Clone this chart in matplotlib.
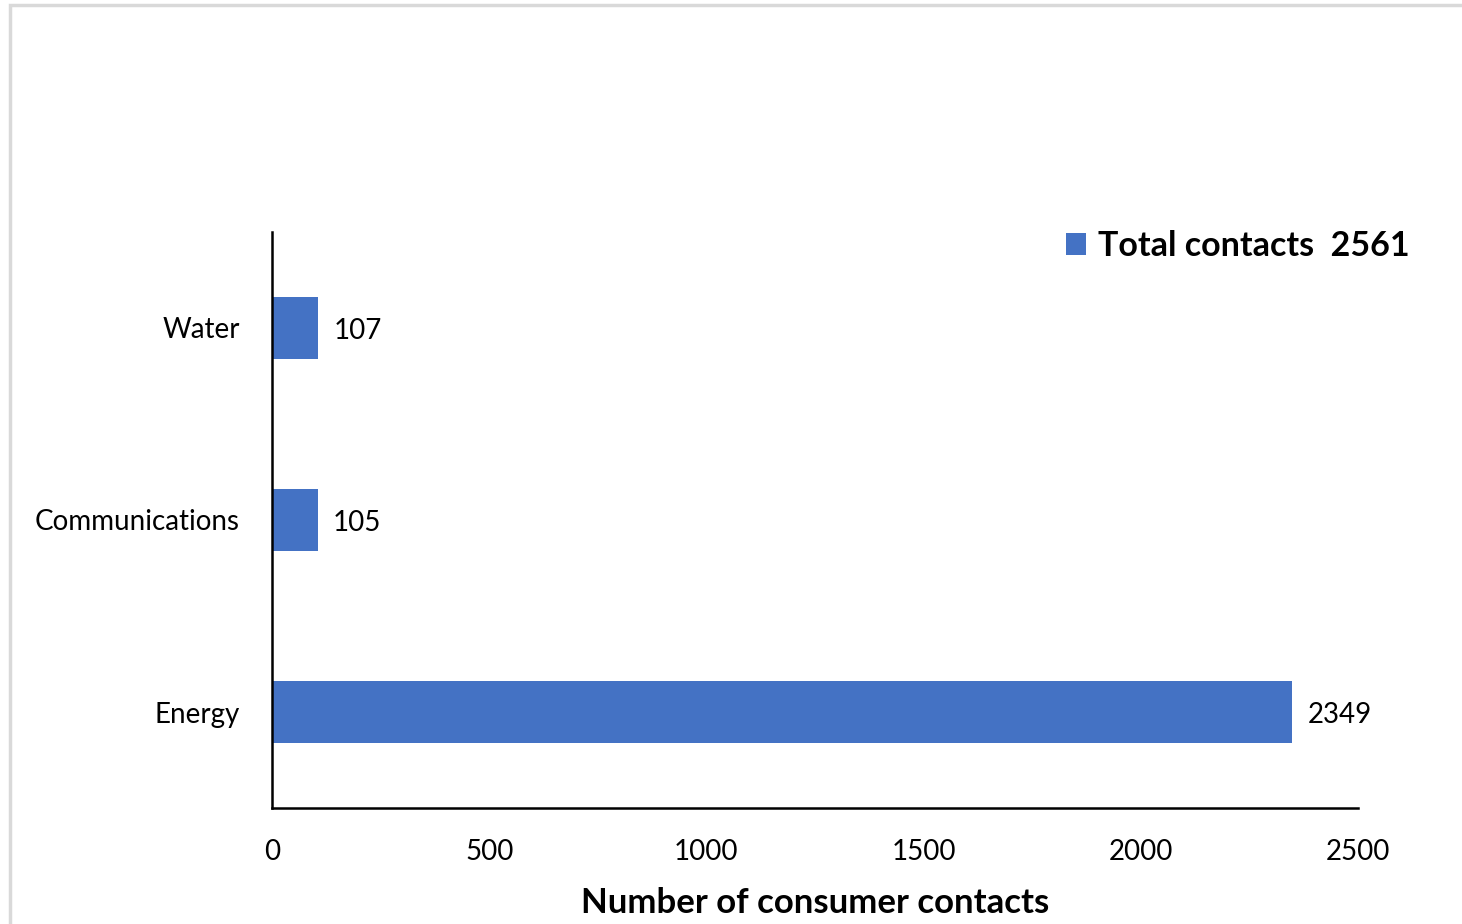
import matplotlib
matplotlib.use('Agg')
import matplotlib.pyplot as plt
from matplotlib.patches import Rectangle

# data
sectors = ['Energy', 'Communications', 'Water']
contacts = [2349, 105, 107]
total_label = 'Total contacts  2561'
xticks = [0, 500, 1000, 1500, 2000, 2500]

bar_color = '#4472C4'
plt.rcParams['font.family'] = ['Lato', 'DejaVu Sans']

W, H = 1462, 924
fig = plt.figure(figsize=(W / 100, H / 100), dpi=100)
# axes box in pixels: x 272..1358, y 232..808
ax = fig.add_axes([272 / W, 1 - 808 / H, (1358 - 272) / W, (808 - 232) / H])

bars = ax.barh(range(len(sectors)), contacts, height=0.32, color=bar_color, label=total_label)
for b, v in zip(bars, contacts):
    ax.annotate(str(v), (b.get_width(), b.get_y() + b.get_height() / 2),
                xytext=(11, -2), textcoords='offset points',
                va='center', ha='left', fontsize=20, color='black')

ax.set_xlim(0, 2500)
ax.set_ylim(-0.5, 2.5)
ax.set_xticks(xticks)
ax.set_yticks(range(len(sectors)))
ax.set_yticklabels(sectors)
ax.tick_params(axis='both', length=0, labelsize=20, colors='black')
ax.tick_params(axis='x', pad=22)
ax.tick_params(axis='y', pad=23)
for s in ['top', 'right']:
    ax.spines[s].set_visible(False)
for s in ['left', 'bottom']:
    ax.spines[s].set_linewidth(1.8)
    ax.spines[s].set_color('black')

ax.set_xlabel('Number of consumer contacts', fontsize=25, fontweight='bold', labelpad=16)

leg = ax.legend(loc='center right', bbox_to_anchor=((1410 - 272) / 1086, (808 - 246) / 576),
                frameon=False, borderpad=0, borderaxespad=0,
                prop={'size': 24.5, 'weight': 'bold'}, handlelength=0.6, handleheight=0.6,
                handletextpad=0.35)

# light grey frame around the chart area
fig.patches.append(Rectangle((10 / W, -0.01), 1.02, 1 - 5 / H + 0.01, transform=fig.transFigure,
                             fill=False, edgecolor='#d9d9d9', linewidth=2.5))

fig.savefig('out.png', dpi=100)
